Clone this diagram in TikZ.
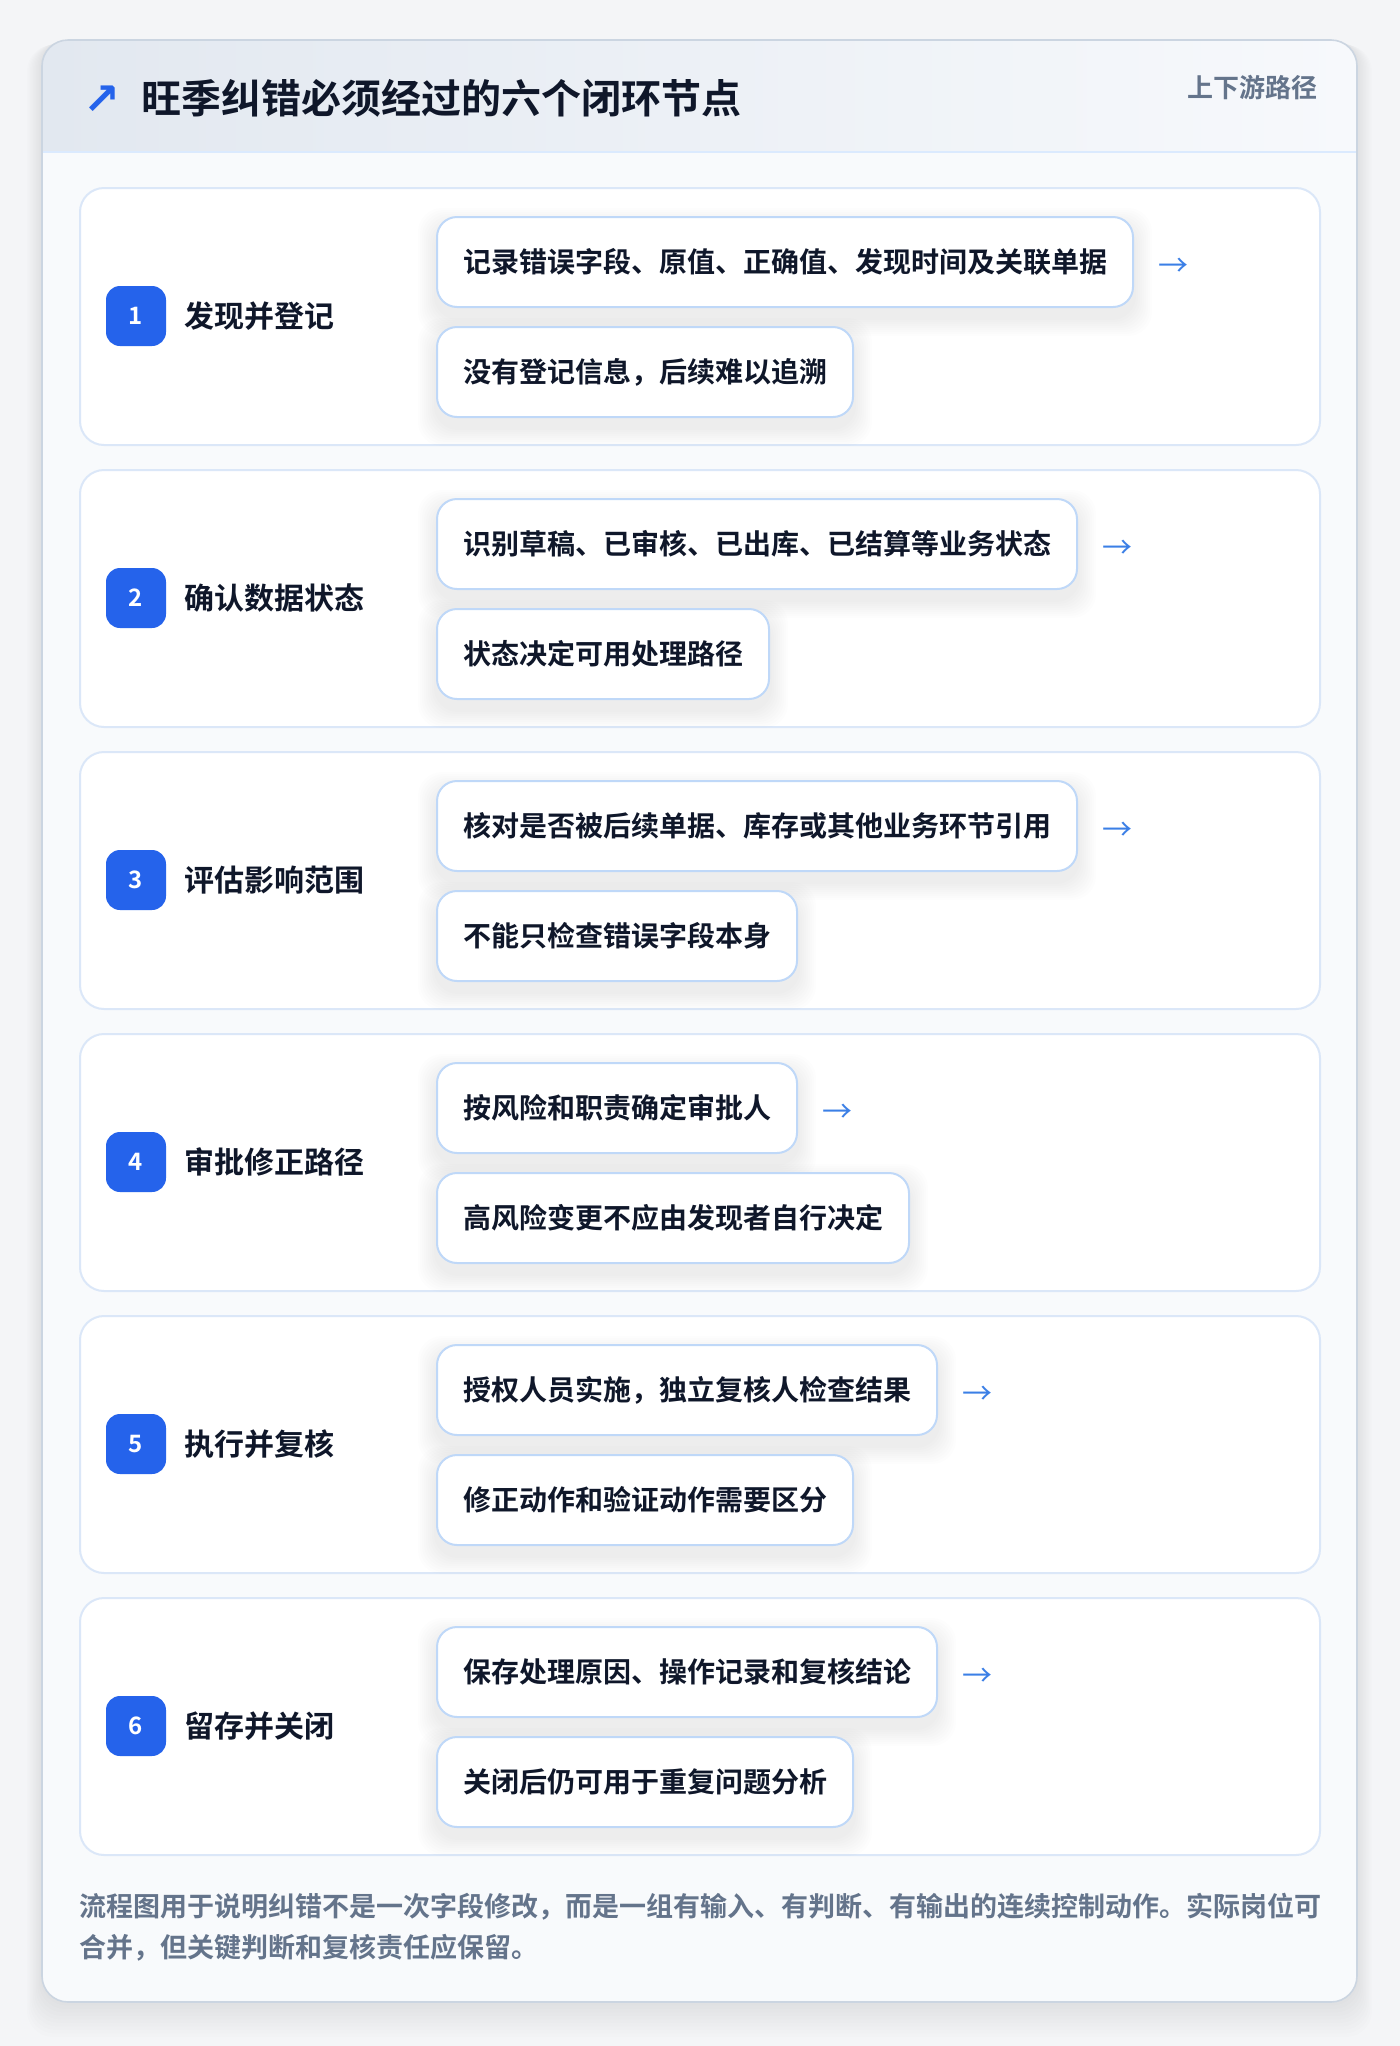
\documentclass[tikz,border=0pt]{standalone}
\usepackage{fontspec}
\setmainfont{Noto Sans CJK SC}[BoldFont={Noto Sans CJK SC Bold}]
\newfontfamily\symfont{DejaVu Sans}
\definecolor{pagebg}{HTML}{F4F5F7}
\definecolor{cardbg}{HTML}{F8FAFC}
\definecolor{cardline}{HTML}{CBD5E1}
\definecolor{hdrL}{HTML}{E2E8F0}
\definecolor{hdrR}{HTML}{F7F9FC}
\definecolor{hdrline}{HTML}{DBEAFE}
\definecolor{stepline}{HTML}{DBE7F8}
\definecolor{boxline}{HTML}{BFD8F8}
\definecolor{badgec}{HTML}{2563EB}
\definecolor{arrowc}{HTML}{3B7FE6}
\definecolor{ink}{HTML}{0F172A}
\definecolor{muted}{HTML}{64748B}
\pgfdeclarelayer{back}
\pgfdeclarelayer{shade}
\pgfsetlayers{back,shade,main}
\tikzset{
  stepcard/.style={draw=stepline, line width=1pt, fill=white, rounded corners=12pt},
  badgebox/.style={fill=badgec, rounded corners=7pt, minimum width=30pt, minimum height=30pt, inner sep=0pt,
    text=white, font=\fontsize{12pt}{14pt}\selectfont\bfseries},
  steptitle/.style={anchor=west, inner sep=0pt, text=ink, font=\fontsize{15pt}{18pt}\selectfont\bfseries},
  itembox/.style={anchor=west, draw=boxline, line width=1pt, fill=white, rounded corners=10pt,
    inner xsep=13pt, inner ysep=0pt, minimum height=45pt, text=ink,
    font=\fontsize{14pt}{17pt}\selectfont\bfseries},
  flowarrow/.style={anchor=west, inner sep=0pt, text=arrowc, font=\fontsize{15pt}{17pt}\selectfont},
  softshade/.style={fill=black, opacity=0.0065, rounded corners=12pt},
}
\newcommand{\boxshade}[1]{%
  \begin{pgfonlayer}{shade}
  \foreach \s in {1,...,9}
    \fill[softshade] ([xshift=-\s pt, yshift=\s pt-5pt]#1.north west) rectangle ([xshift=\s pt, yshift=-\s pt-5pt]#1.south east);
  \end{pgfonlayer}}
\begin{document}
\begin{tikzpicture}[x=0.5pt,y=-0.5pt]
\useasboundingbox (0,0) rectangle (1400,2046);
\begin{pgfonlayer}{back}
\fill[pagebg] (0,0) rectangle (1400,2046);
% soft shadow of the outer card
\foreach \k in {1,...,10}
  \fill[black, opacity=0.008, rounded corners=13pt] (42-\k*1.5,40+\k*0.5) rectangle (1357+\k*1.5,2002+\k*3.5);
% outer card
\fill[cardbg, rounded corners=13pt] (42,40) rectangle (1357,2002);
\begin{scope}
  \clip[rounded corners=13pt] (42,40) rectangle (1357,2002);
  \shade[left color=hdrL, right color=hdrR] (42,40) rectangle (1357,152);
  \draw[hdrline, line width=1pt] (42,152) -- (1357,152);
\end{scope}
\draw[cardline, line width=0.8pt, rounded corners=13pt] (42,40) rectangle (1357,2002);
\foreach \i in {1,...,6}{
  \pgfmathsetmacro{\T}{188+282*(\i-1)}
  \draw[stepcard] (80,\T) rectangle (1320,\T+257);
}
\end{pgfonlayer}
% header
\node[anchor=center, inner sep=0pt, text=badgec, font=\symfont\fontsize{22pt}{24pt}\selectfont\bfseries] (hicon) at (102,100) {↗};
\node[anchor=west, inner sep=0pt, text=ink, font=\fontsize{20pt}{24pt}\selectfont\bfseries] (htitle) at (141,98) {旺季纠错必须经过的六个闭环节点};
\node[anchor=east, inner sep=0pt, text=muted, font=\fontsize{13pt}{15pt}\selectfont\bfseries] (hright) at (1318,88) {上下游路径};
% steps
\foreach \i/\t/\a/\b in {
  1/发现并登记/记录错误字段、原值、正确值、发现时间及关联单据/没有登记信息，后续难以追溯,
  2/确认数据状态/识别草稿、已审核、已出库、已结算等业务状态/状态决定可用处理路径,
  3/评估影响范围/核对是否被后续单据、库存或其他业务环节引用/不能只检查错误字段本身,
  4/审批修正路径/按风险和职责确定审批人/高风险变更不应由发现者自行决定,
  5/执行并复核/授权人员实施，独立复核人检查结果/修正动作和验证动作需要区分,
  6/留存并关闭/保存处理原因、操作记录和复核结论/关闭后仍可用于重复问题分析}{
  \pgfmathsetmacro{\T}{188+282*(\i-1)}
  \node[badgebox] (badge\i) at (136,\T+128) {\i};
  \node[steptitle] (title\i) at (184,\T+128) {\t};
  \node[itembox] (a\i) at (436,\T+74) {\a};
  \node[itembox] (b\i) at (436,\T+184) {\b};
  \boxshade{a\i}
  \boxshade{b\i}
  \node[flowarrow] (r\i) at ([xshift=12pt,yshift=-2.5pt]a\i.east) {→};
}
% footnote
\node[anchor=west, inner sep=0pt, align=left, text=muted, font=\fontsize{13.5pt}{20.5pt}\selectfont\bfseries] (note) at (79,1927)
  {流程图用于说明纠错不是一次字段修改，而是一组有输入、有判断、有输出的连续控制动作。实际岗位可\\合并，但关键判断和复核责任应保留。};
\end{tikzpicture}
\end{document}
